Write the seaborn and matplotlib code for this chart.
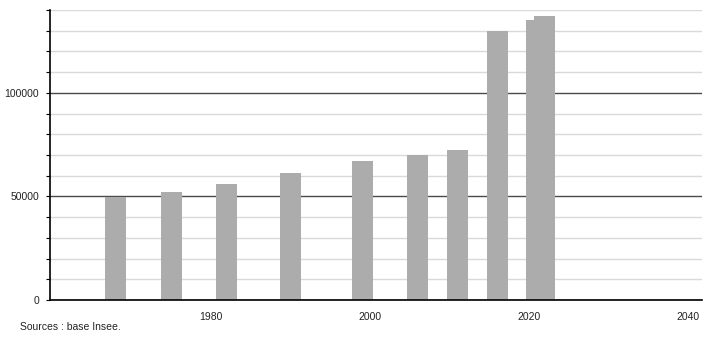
import matplotlib
matplotlib.use("Agg")
import matplotlib.pyplot as plt
import seaborn as sns
import pandas as pd
from matplotlib.ticker import MultipleLocator

years = [1968, 1975, 1982, 1990, 1999, 2006, 2011, 2016, 2021, 2022]
population = [49800, 51900, 55800, 61200, 67000, 70200, 72300, 130100, 135000, 136900]
xticks = [1980, 2000, 2020, 2040]
yticks = [0, 50000, 100000]
source = "Sources : base Insee."

sns.set_theme(style="white")
plt.rcParams['font.family'] = ['Liberation Sans', 'DejaVu Sans']

df = pd.DataFrame({"year": years, "pop": population})

fig = plt.figure(figsize=(7.1, 3.4), dpi=100)
ax = fig.add_axes([50/710, 40/340, 652/710, 290/340])

XLIM = (1959.75, 2041.75)
ax.set_xlim(*XLIM)
ax.set_ylim(0, 140000)
ax.yaxis.set_minor_locator(MultipleLocator(10000))
ax.grid(which="minor", axis="y", color="#d9d9d9", linewidth=1.0)
ax.grid(which="major", axis="y", color="#4a4a4a", linewidth=1.0)
ax.set_axisbelow(True)

sns.barplot(data=df, x="year", y="pop", native_scale=True, width=2.65,
            color="#acacac", saturation=1, ax=ax, errorbar=None, linewidth=0)

ax.set_xlim(*XLIM)
ax.set_ylim(0, 140000)
ax.set_xticks(xticks)
ax.set_xticklabels([str(t) for t in xticks])
ax.set_yticks(yticks)
ax.set_yticklabels([str(t) for t in yticks])
ax.set_xlabel("")
ax.set_ylabel("")

for s in ["top", "right"]:
    ax.spines[s].set_visible(False)
for s in ["left", "bottom"]:
    ax.spines[s].set_color("black")
    ax.spines[s].set_linewidth(1.2)

ax.tick_params(axis="y", which="both", left=True, length=3, width=0.8, color="black",
               labelsize=7.5, pad=5, labelcolor="#222222")
ax.tick_params(axis="x", which="both", bottom=False, labelsize=7.5, pad=3, labelcolor="#222222")

fig.text(20/710, 1 - 327/340, source, fontsize=7.5, color="#222222", va="center", ha="left")

fig.savefig("out.png", dpi=100)
